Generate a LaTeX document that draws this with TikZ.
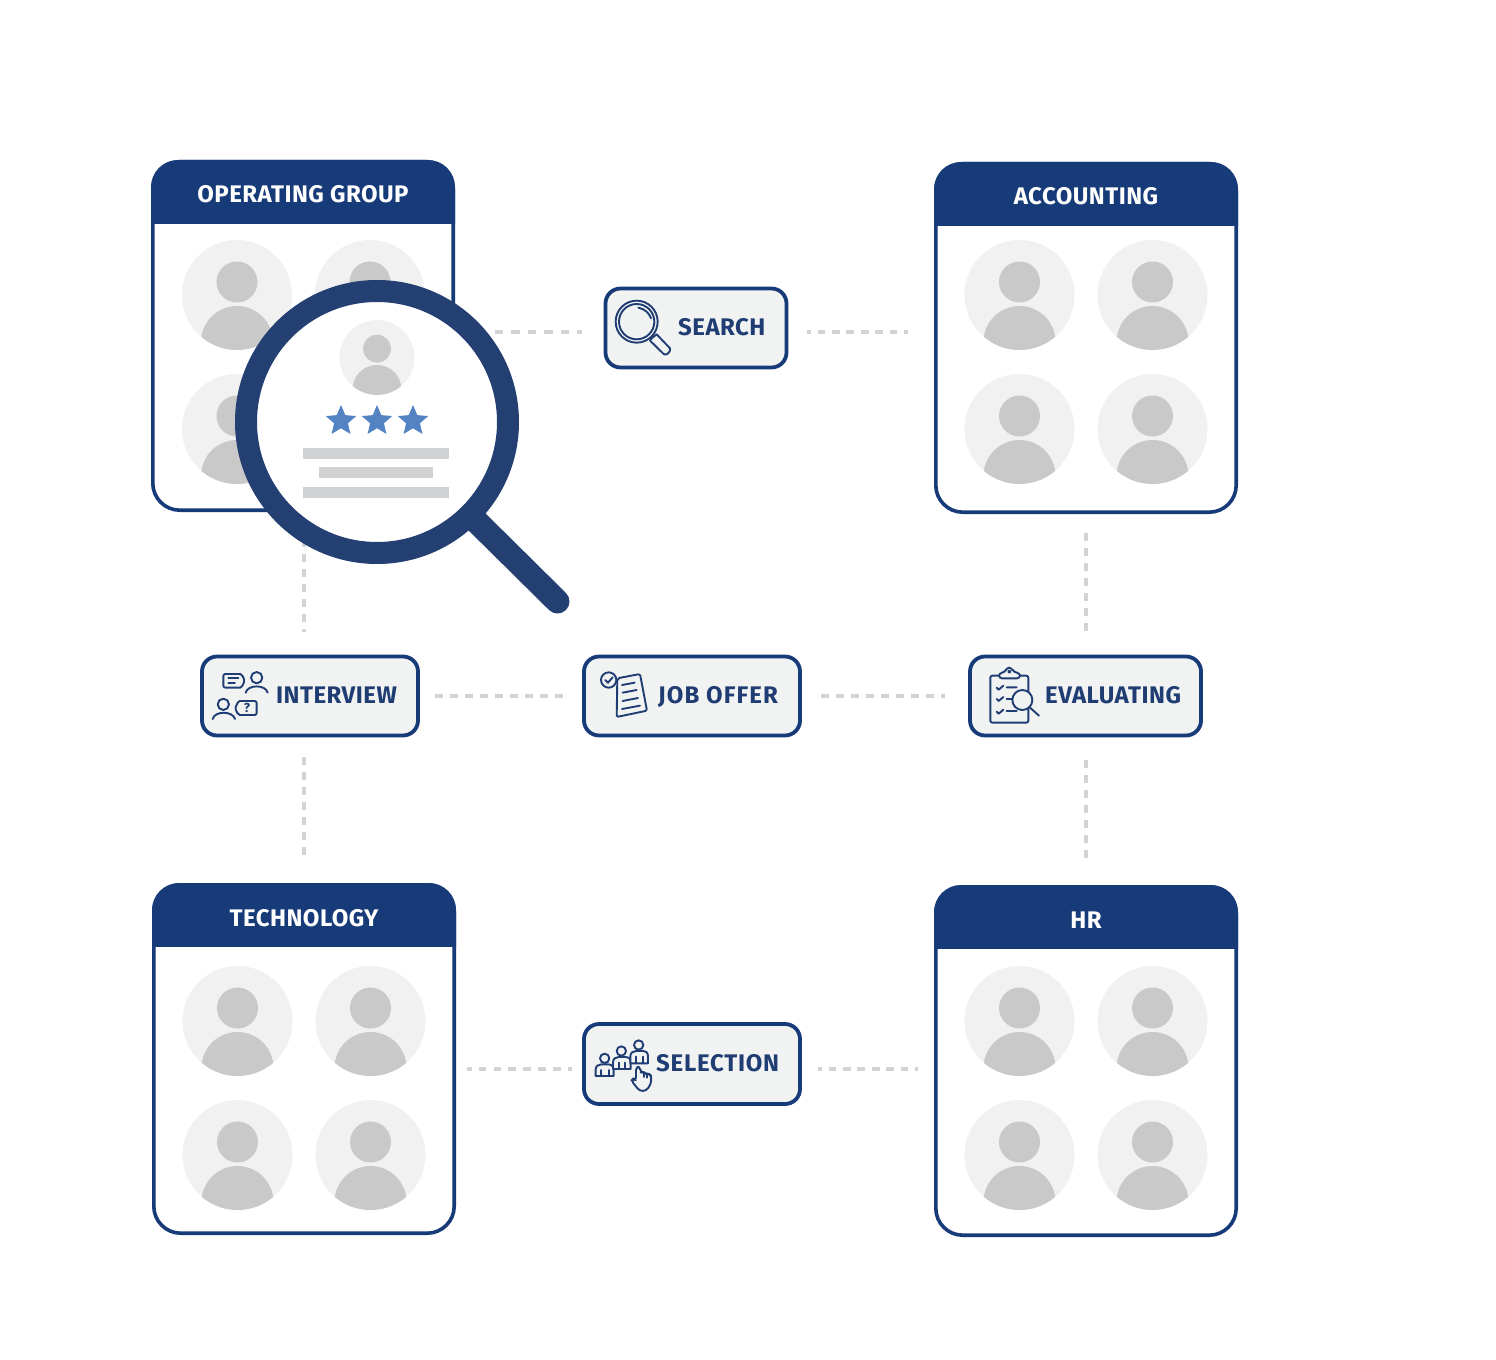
\documentclass[tikz,border=0pt]{standalone}
\usepackage{fontspec}
\setmainfont[LetterSpace=2]{Fira Sans}
\usetikzlibrary{shapes.geometric}
\definecolor{navy}{HTML}{163B78}
\definecolor{ringc}{HTML}{243F72}
\definecolor{iconc}{HTML}{1F3D73}
\definecolor{dashc}{HTML}{D2D3D5}
\definecolor{avbg}{HTML}{F1F1F1}
\definecolor{avfg}{HTML}{C9C9C9}
\definecolor{badgebg}{HTML}{F1F3F3}
\definecolor{barc}{HTML}{D1D2D4}
\definecolor{starc}{HTML}{5483C4}
\tikzset{
  x=1bp,y=-1bp,
  cardbox/.style={draw=navy,line width=3.6bp,fill=white,rounded corners=27bp,inner sep=0pt,minimum width=300.4bp,minimum height=348.4bp},
  cardtitle/.style={text=white,font=\fontsize{24bp}{26bp}\selectfont\bfseries,inner sep=0pt,anchor=base},
  badge/.style={draw=navy,line width=3.8bp,fill=badgebg,rounded corners=15bp,inner sep=0pt},
  badgetext/.style={text=iconc,font=\fontsize{24bp}{26bp}\selectfont\bfseries,inner sep=0pt,anchor=base west},
  conn/.style={draw=dashc,line width=3.8bp},
  ico/.style={draw=iconc,line width=1.9bp,line cap=round,line join=round},
  starmark/.style={star,star points=5,star point ratio=2.2,fill=starc,inner sep=0pt,minimum size=32bp},
}
\newcommand{\avatar}[3]{% cx cy scale
  \begin{scope}[shift={(#1,#2)},x=#3bp,y=-#3bp]
    \fill[avbg] (0,0) circle[radius=55];
    \begin{scope}
      \clip (0,0) circle[radius=55];
      \fill[avfg] (0,47) ellipse[x radius=36,y radius=36];
    \end{scope}
    \fill[avfg] (0,-13) circle[radius=20.5];
  \end{scope}}
\newcommand{\card}[6]{% name left top title x-col1 y-row1
  \node[cardbox] (#1) at (#2+152,#3+176) {};
  \begin{scope}
    \clip (#2-3,#3-3) rectangle (#2+307,#3+63.5);
    \fill[navy,rounded corners=27bp] (#2,#3) rectangle (#2+304,#3+352);
  \end{scope}
  \node[cardtitle] (#1t) at (#2+152,#3+43) {#4};
  \avatar{#5}{#6}{1}\avatar{#5+133}{#6}{1}\avatar{#5}{#6+134}{1}\avatar{#5+133}{#6+134}{1}}
\begin{document}
\begin{tikzpicture}
\useasboundingbox (0,0) rectangle (1496,1360);
\fill[white] (0,0) rectangle (1496,1360);
% badges
\node[badge,minimum width=181bp,minimum height=79bp] (search) at (696,328) {};
\node[badge,minimum width=216bp,minimum height=79bp] (interview) at (310,696) {};
\node[badge,minimum width=216bp,minimum height=79bp] (joboffer) at (692,696) {};
\node[badge,minimum width=231bp,minimum height=79bp] (evaluating) at (1085.5,696) {};
\node[badge,minimum width=216bp,minimum height=80bp] (selection) at (692,1064) {};
% cards
\card{op}{151}{160}{OPERATING GROUP}{237}{295}
\card{acc}{934}{162}{ACCOUNTING}{1019.5}{295}
\card{tech}{152}{883}{TECHNOLOGY}{237.5}{1021}
\card{hr}{934}{885}{HR}{1019.5}{1021}
% connectors
\draw[conn,dash pattern=on 8.3bp off 8.1bp,shorten <=40bp,shorten >=21.9bp] (op.east |- 0,331.7) -- (search.west |- 0,331.7);
\draw[conn,dash pattern=on 7.7bp off 6.7bp,dash phase=3.8bp,shorten <=18.6bp,shorten >=26bp] (search.east |- 0,331.7) -- (acc.west |- 0,331.7);
\draw[conn,dash pattern=on 8bp off 7bp,shorten <=27bp,shorten >=22.6bp] (tech.north |- op.south) -- (tech.north |- interview.north);
\draw[conn,dash pattern=on 8bp off 7bp,shorten <=19.6bp,shorten >=28bp] (tech.north |- interview.south) -- (tech.north);
\draw[conn,dash pattern=on 8bp off 7bp,shorten <=19bp,shorten >=23.6bp] (acc.south) -- (evaluating.north -| acc.south);
\draw[conn,dash pattern=on 8.3bp off 6.7bp,shorten <=22.6bp,shorten >=27bp] (evaluating.south -| acc.south) -- (hr.north);
\draw[conn,dash pattern=on 8bp off 7bp,shorten <=15.1bp,shorten >=19.1bp] (interview.east |- 0,695.7) -- (joboffer.west |- 0,695.7);
\draw[conn,dash pattern=on 8bp off 7bp,shorten <=19.1bp,shorten >=23.1bp] (joboffer.east |- 0,696) -- (evaluating.west |- 0,696);
\draw[conn,dash pattern=on 7.8bp off 7.1bp,dash phase=3.3bp,shorten <=11bp,shorten >=10.1bp] (tech.east |- 0,1069) -- (selection.west |- 0,1069);
\draw[conn,dash pattern=on 7.7bp off 6.7bp,dash phase=3.8bp,shorten <=16.1bp,shorten >=16bp] (selection.east |- 0,1069) -- (hr.west |- 0,1069);
% badge text
\node[badgetext] (tsearch) at (678,335) {SEARCH};
\node[badgetext] (tinterview) at (276,703) {INTERVIEW};
\node[badgetext] (tjob) at (658,703) {\addfontfeature{LetterSpace=4.6}JOB OFFER};
\node[badgetext] (teval) at (1045,703) {EVALUATING};
\node[badgetext] (tsel) at (656,1071) {\addfontfeature{LetterSpace=3}SELECTION};
% search icon
\begin{scope}[shift={(590,275)},x=1/3*1bp,y=-1/3*1bp]
  \draw[ico] (140,140) circle[radius=63];
  \draw[ico] (140,140) circle[radius=53];
  \draw[ico] (145,98) .. controls (165,102) and (178,115) .. (183,130);
  \draw[ico] (185,190) -- (200,178) -- (240,220) .. controls (243,228) and (232,242) .. (222,238) -- (180,197) -- cycle;
\end{scope}
% interview icon
\begin{scope}[shift={(195,645)},x=1/3*1bp,y=-1/3*1bp]
  \draw[ico,rounded corners=2bp] (85,87) -- (142,87) -- (143,98) -- (151,107) -- (143,116) -- (142,128) -- (85,128) -- cycle;
  \draw[ico] (100,100) -- (130,100) (100,113) -- (120,113);
  \draw[ico] (185,98) circle[radius=17];
  \draw[ico] (152,143) .. controls (158,118) and (212,118) .. (218,143);
  \draw[ico] (85,178) circle[radius=17];
  \draw[ico] (53,222) .. controls (59,197) and (113,197) .. (120,222);
  \draw[ico,rounded corners=2bp] (185,168) -- (128,168) -- (127,180) -- (118,190) -- (127,199) -- (128,210) -- (185,210) -- cycle;
  \node[text=iconc,font=\fontsize{13bp}{14bp}\selectfont\bfseries,inner sep=0pt] (qmark) at (156,189) {?};
\end{scope}
% job offer icon
\begin{scope}[shift={(578,645)},x=1/3*1bp,y=-1/3*1bp]
  \draw[ico,rounded corners=2bp] (118,100) -- (186,87) -- (207,197) -- (116,216) -- cycle;
  \draw[ico,fill=badgebg] (92,105) circle[radius=23];
  \draw[ico] (82,105) -- (90,113) -- (104,97);
  \draw[ico] (132,120) -- (170,113) (134,143) -- (176,135) (134,168) -- (180,159) (132,192) -- (186,182);
\end{scope}
% evaluating icon
\begin{scope}[shift={(965,645)},x=1/3*1bp,y=-1/3*1bp]
  \draw[ico,rounded corners=2bp] (100,92) -- (76,92) -- (76,233) -- (190,233) -- (190,92) -- (165,92);
  \draw[ico,rounded corners=3bp,fill=badgebg] (102,100) -- (102,84) -- (120,82) -- (125,68) -- (140,68) -- (146,82) -- (165,84) -- (165,100) -- cycle;
  \draw[ico] (133,80) circle[radius=3];
  \draw[ico] (95,128) -- (101,134) -- (115,122) (125,127) -- (155,127);
  \draw[ico] (95,162) -- (101,168) -- (115,156) (125,162) -- (140,162);
  \draw[ico] (95,200) -- (101,206) -- (115,194) (125,198) -- (155,198);
  \draw[ico,fill=badgebg] (172,165) circle[radius=30];
  \draw[ico] (195,188) -- (222,212);
\end{scope}
% selection icon
\begin{scope}[shift={(578,1015)},x=1/3*1bp,y=-1/3*1bp]
  \draw[ico] (80,130) circle[radius=14];
  \draw[ico] (53,183) -- (53,164) .. controls (53,152) and (62,149) .. (70,148) -- (90,148) .. controls (100,149) and (107,152) .. (107,164) -- (107,183) -- cycle;
  \draw[ico] (70,165) -- (70,183) (92,165) -- (92,183);
  \draw[ico] (130,108) circle[radius=14];
  \draw[ico,fill=badgebg] (105,162) -- (105,142) .. controls (105,130) and (114,127) .. (122,126) -- (142,126) .. controls (152,127) and (158,130) .. (158,142) -- (158,162) -- cycle;
  \draw[ico] (122,143) -- (122,162) (142,143) -- (142,162);
  \draw[ico] (182,90) circle[radius=14];
  \draw[ico,fill=badgebg] (157,145) -- (157,124) .. controls (157,112) and (166,109) .. (174,108) -- (194,108) .. controls (204,109) and (210,112) .. (210,124) -- (210,145) -- cycle;
  \draw[ico] (174,125) -- (174,145) (194,125) -- (194,145);
  \draw[ico,fill=badgebg,rounded corners=3bp] (174,196) -- (174,156) -- (187,156) -- (187,172) -- (197,172) -- (203,176) -- (214,177) -- (220,183) -- (219,206) -- (205,227) -- (185,228) -- (160,197) -- (166,190) -- cycle;
  \draw[ico] (197,172) -- (197,186) (208,177) -- (208,188);
\end{scope}
% magnifier
\draw[ringc,line width=24bp,line cap=round] (470,515) -- (557.5,601.5);
\draw[ringc,line width=22bp,fill=white] (377,422) circle[radius=131];
\avatar{377}{357.5}{0.68}
\node[starmark] (s1) at (341,421) {};
\node[starmark] (s2) at (377,421) {};
\node[starmark] (s3) at (413,421) {};
\fill[barc] (303,448) rectangle (449,458.5);
\fill[barc] (319,467) rectangle (433,478);
\fill[barc] (303,487) rectangle (449,497.5);
\end{tikzpicture}
\end{document}
